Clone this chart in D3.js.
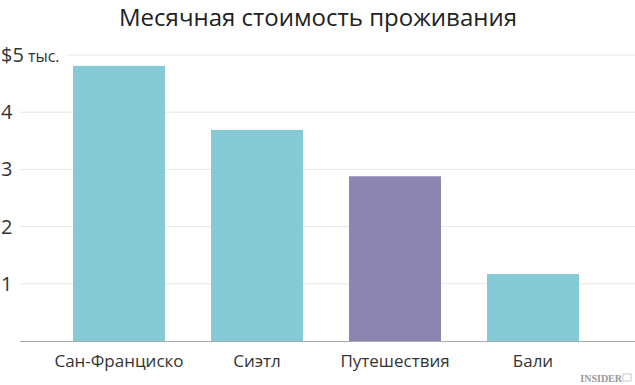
<!DOCTYPE html>
<html><head><meta charset="utf-8">
<script src="https://cdn.jsdelivr.net/npm/d3@7/dist/d3.min.js"></script>
<style>body{margin:0;background:#fff;} svg{display:block;}</style>
</head><body>
<svg id="c" width="635" height="385"></svg>
<script>
const categories = ["Сан-Франциско", "Сиэтл", "Путешествия", "Бали"];
const values = [4.81, 3.69, 2.88, 1.17];
const colors = ["#86cad5", "#86cad5", "#8c85b2", "#86cad5"];
const tickValues = [1, 2, 3, 4, 5];
const tickLabels = ["1", "2", "3", "4", "$5"];
const title = "Месячная стоимость проживания";

const svg = d3.select("#c");
const font = "'Open Sans', sans-serif";
const x = d3.scaleBand().domain(categories).range([50, 602]).paddingInner(1/3).paddingOuter(1/6);
const y = d3.scaleLinear().domain([0, 5]).range([341, 55]);

svg.append("text").attr("x", 318).attr("y", 26).attr("text-anchor", "middle")
  .attr("font-family", font).attr("font-size", 24).attr("fill", "#222").text(title);

// gridlines
svg.selectAll("line.grid").data(tickValues).enter().append("line")
  .attr("x1", d => d === 5 ? 67 : 20).attr("x2", 635)
  .attr("y1", d => y(d)).attr("y2", d => y(d))
  .attr("stroke", "#e6e6e6").attr("stroke-width", 1);

// tick labels
const tl = svg.selectAll("text.tick").data(tickValues).enter().append("text")
  .attr("x", 1).attr("y", d => y(d) + 7)
  .attr("font-family", font).attr("font-size", 20).attr("fill", "#333");
tl.append("tspan").text((d, i) => tickLabels[i]);
tl.filter(d => d === 5).append("tspan").attr("font-size", 16).attr("dx", 4).text("тыс.");

// bars
svg.selectAll("rect.bar").data(values).enter().append("rect")
  .attr("x", (d, i) => x(categories[i])).attr("width", x.bandwidth())
  .attr("y", d => y(d)).attr("height", d => y(0) - y(d))
  .attr("fill", (d, i) => colors[i]);

// baseline
svg.append("line").attr("x1", 20).attr("x2", 635).attr("y1", y(0) + 0.5).attr("y2", y(0) + 0.5)
  .attr("stroke", "#aaa").attr("stroke-width", 1);

// category labels
svg.selectAll("text.cat").data(categories).enter().append("text")
  .attr("x", d => x(d) + x.bandwidth() / 2).attr("y", 367).attr("text-anchor", "middle")
  .attr("font-family", font).attr("font-size", 17).attr("fill", "#333").text(d => d);

// watermark
svg.append("text").attr("x", 622).attr("y", 382).attr("text-anchor", "end")
  .attr("font-family", "'Liberation Serif', serif").attr("font-weight", "bold")
  .attr("font-size", 10).attr("fill", "#999").text("INSIDER");
svg.append("rect").attr("x", 623).attr("y", 374).attr("width", 8).attr("height", 7)
  .attr("fill", "none").attr("stroke", "#bbb").attr("stroke-width", 0.8);
</script>
</body></html>
